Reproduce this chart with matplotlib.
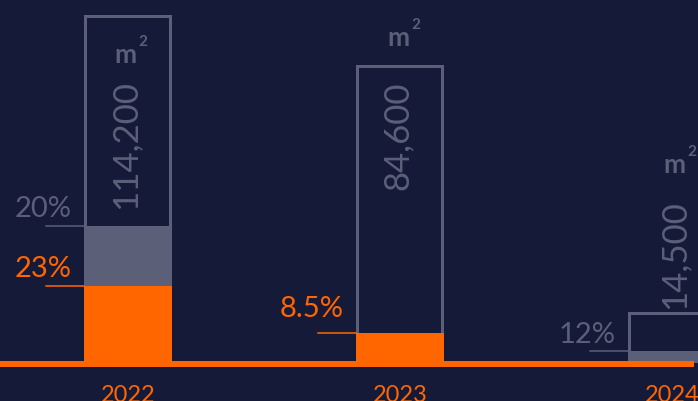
import numpy as np
import matplotlib.pyplot as plt

# data
years = ["2022", "2023", "2024"]
area = ["114,200", "84,600", "14,500"]
bar_height = [345.5, 295.5, 48.5]     # drawn height of each outline box
orange_part = [75, 28, 0]             # orange fill at the bottom
gray_part = [60, 0, 10]               # gray fill above the orange
orange_pct = ["23%", "8.5%", ""]
gray_pct = ["20%", "", "12%"]

BG = "#161a39"
ORANGE = "#ff6600"
GRAY = "#5c5f78"
FONT = "Lato"
W = "normal"

PX = 1 / 272  # one pixel in x units
x = np.arange(len(years))

fig = plt.figure(figsize=(6.98, 4.02), dpi=100, facecolor=BG)
ax = fig.add_axes([0, 34 / 402, 1, 368 / 402])
ax.set_facecolor(BG)
ax.set_xlim(-128 * PX, 570 * PX)
ax.set_ylim(-6, 362)
for s in ax.spines.values():
    s.set_visible(False)
ax.set_yticks([])
ax.set_xticks(x, years)
ax.tick_params(axis="x", length=0, pad=12, labelcolor=ORANGE, labelsize=17)
for lab in ax.get_xticklabels():
    lab.set_fontfamily(FONT)
    lab.set_fontweight(W)

# outline boxes and fills
ax.bar(x, bar_height, width=85 * PX, fill=False, edgecolor=GRAY, linewidth=2.16)
ax.bar(x, orange_part, width=88 * PX, color=ORANGE, linewidth=0)
ax.bar(x, gray_part, bottom=orange_part, width=88 * PX, color=GRAY, linewidth=0)

# baseline
ax.plot([-128 * PX, 566 * PX], [-3, -3], color=ORANGE, lw=4.32,
        solid_capstyle="butt", clip_on=False)

# percent labels with leader lines
pct_pad = [10, 17, 9]
for i in range(len(years)):
    left = x[i] - 44 * PX
    levels = [(orange_pct[i], orange_part[i], ORANGE),
              (gray_pct[i], orange_part[i] + gray_part[i], GRAY)]
    for txt, lvl, col in levels:
        if not txt:
            continue
        ax.plot([left - 38 * PX, left], [lvl, lvl], color=col, lw=1.1)
        ax.text(left - 12 * PX, lvl + pct_pad[i], txt, color=col, fontsize=21,
                fontfamily=FONT, fontweight=W, ha="right", va="baseline")

# rotated area numbers and m2 units
num_top = [362 - 80, 362 - 82, 362 - 200]
unit_base = [362 - 63, 362 - 46, 362 - 173]
num_dx = [-3, -2, 2]
for i in range(len(years)):
    cx = x[i] + num_dx[i] * PX
    ax.text(cx, num_top[i], area[i], rotation=90, color=GRAY, fontsize=25,
            fontfamily=FONT, fontweight=W, ha="center", va="top")
    ax.text(cx, unit_base[i], "m", color=GRAY, fontsize=19, fontfamily=FONT,
            fontweight="bold", ha="center", va="baseline")
    ax.text(cx + 13 * PX, unit_base[i] + 14, "2", color=GRAY, fontsize=11,
            fontfamily=FONT, fontweight="bold", ha="left", va="bottom")

fig.savefig("out.png", dpi=100, facecolor=BG)
